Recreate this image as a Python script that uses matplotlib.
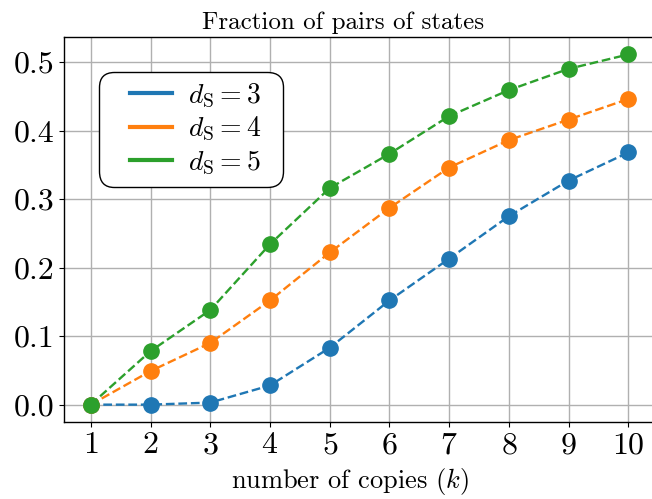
import matplotlib
matplotlib.use("Agg")
import matplotlib.pyplot as plt
from matplotlib.lines import Line2D
from matplotlib.legend_handler import HandlerLine2D

plt.rcParams['font.family'] = 'serif'
plt.rcParams['font.serif'] = ['cmr10']
plt.rcParams['mathtext.fontset'] = 'cm'
plt.rcParams['axes.formatter.use_mathtext'] = True

copies = [1, 2, 3, 4, 5, 6, 7, 8, 9, 10]
d3 = [0.0, 0.0, 0.003, 0.028, 0.083, 0.152, 0.213, 0.275, 0.327, 0.368]
d4 = [0.0, 0.049, 0.090, 0.152, 0.222, 0.287, 0.346, 0.386, 0.416, 0.446]
d5 = [0.0, 0.078, 0.138, 0.234, 0.316, 0.366, 0.421, 0.459, 0.490, 0.511]
series = [(d3, 'C0', r'$d_{\mathrm{S}} = 3$'),
          (d4, 'C1', r'$d_{\mathrm{S}} = 4$'),
          (d5, 'C2', r'$d_{\mathrm{S}} = 5$')]

fig = plt.figure(figsize=(6.52, 4.99), dpi=100)
ax = fig.add_axes([0.098, 0.154, 0.907, 0.772])

handles = []
for vals, col, lab in series:
    ax.plot(copies, vals, linestyle='--', color=col, linewidth=1.7, zorder=3)
    ax.plot(copies, vals, linestyle='none', marker='o', markersize=11,
            color=col, zorder=4)
    handles.append(Line2D([0], [0], color=col, linewidth=3, label=lab))

ax.set_xticks(copies)
ax.set_yticks([0.0, 0.1, 0.2, 0.3, 0.4, 0.5])
ax.set_yticklabels(['0.0', '0.1', '0.2', '0.3', '0.4', '0.5'])
ax.tick_params(labelsize=23)
ax.grid(True, color='#b0b0b0', linewidth=1.0)
ax.set_axisbelow(True)
for s in ax.spines.values():
    s.set_linewidth(1.0)

ax.set_title('Fraction of pairs of states', fontsize=18, x=0.472)
ax.set_xlabel(r'number of copies ($k$)', fontsize=19)
ax.xaxis.set_label_coords(0.484, -0.115)

leg = ax.legend(handles=handles, loc='upper left',
                bbox_to_anchor=(0.059, 0.909, 0.311, 0.0), mode='expand',
                borderaxespad=0.0, fontsize=20, fancybox=True, framealpha=1.0,
                edgecolor='black', handlelength=2.27, handletextpad=0.6,
                borderpad=0.35, labelspacing=0.2,
                handler_map={Line2D: HandlerLine2D(xpad=0.76)})
leg.get_frame().set_linewidth(1.0)
leg.get_frame().set_boxstyle('round', pad=0, rounding_size=0.55)

fig.savefig('out.png', dpi=100)
